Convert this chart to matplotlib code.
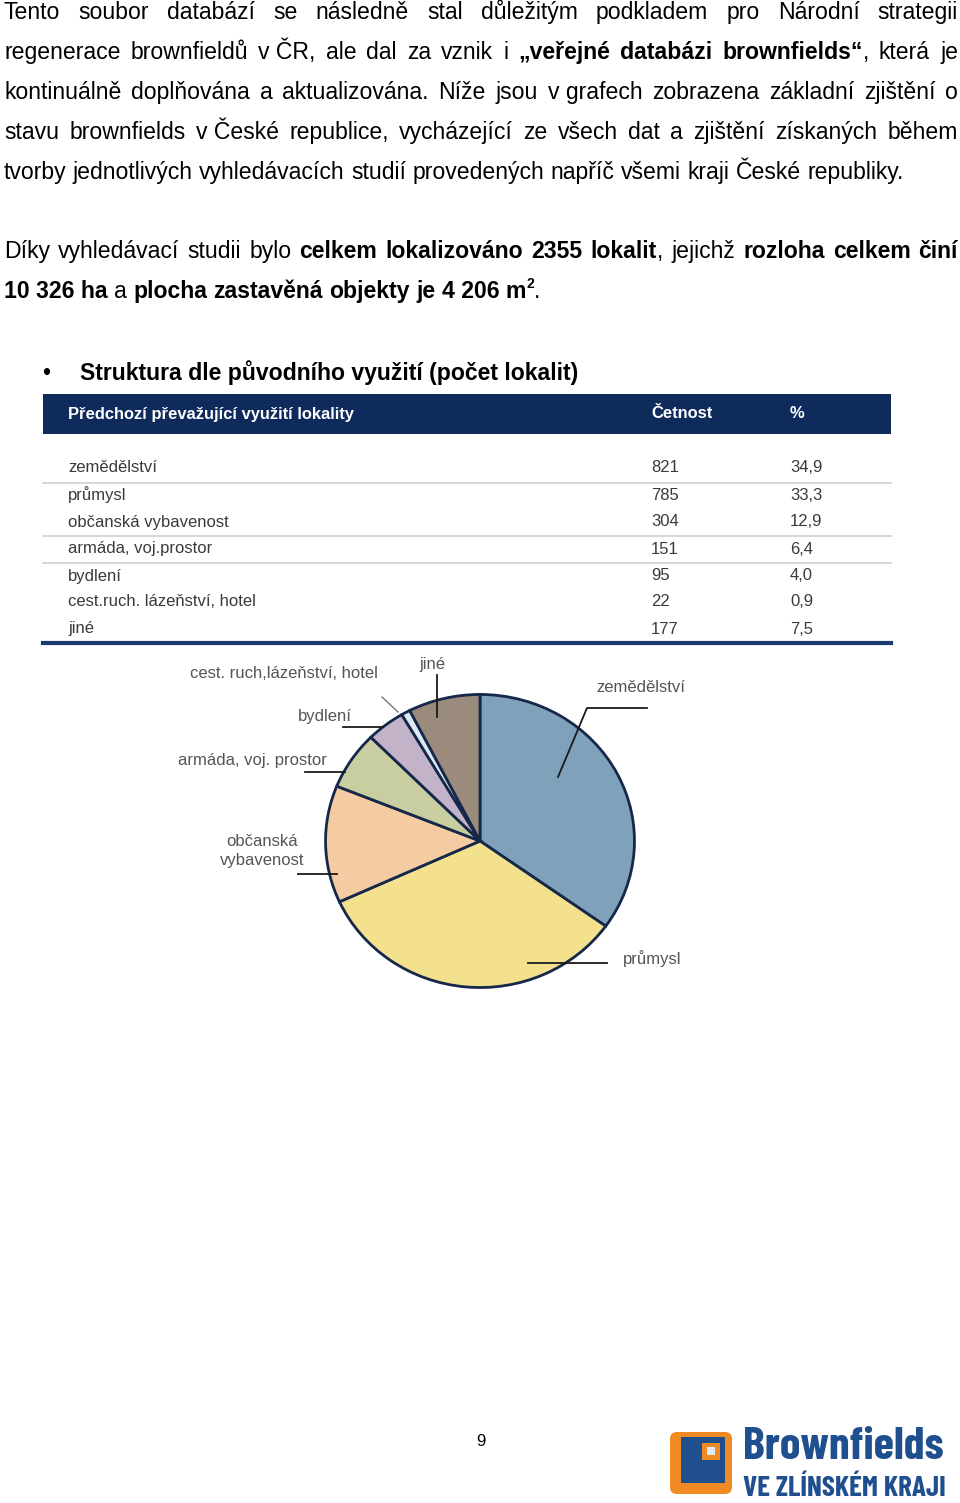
import numpy as np
import matplotlib
matplotlib.use("Agg")
import matplotlib.pyplot as plt
from matplotlib.patches import Rectangle, FancyBboxPatch

# ---- data ----
categories = ["zemědělství", "průmysl", "občanská vybavenost", "armáda, voj.prostor",
              "bydlení", "cest.ruch. lázeňství, hotel", "jiné"]
counts = [821, 785, 304, 151, 95, 22, 177]
percents = ["34,9", "33,3", "12,9", "6,4", "4,0", "0,9", "7,5"]
pie_labels = ["zemědělství", "průmysl", "občanská\nvybavenost", "armáda, voj. prostor",
              "bydlení", "cest. ruch,lázeňství, hotel", "jiné"]
pie_colors = ["#7fa1ba", "#f3e18e", "#f5cca2", "#c9cea0", "#c3b3c9", "#dde9f6", "#9b8b7d"]

W, H = 960, 1503
fig = plt.figure(figsize=(W / 100, H / 100), dpi=100)

# pie axes (page px)
cx, cy, rx, ry = 480, 841, 156, 148
pax = fig.add_axes([(cx - rx) / W, 1 - (cy + ry) / H, 2 * rx / W, 2 * ry / H])
pax.pie(counts, colors=pie_colors, startangle=90, counterclock=False,
        wedgeprops=dict(edgecolor="#16284a", linewidth=2.0))
pax.set_aspect("auto")
pax.set_xlim(-1.01, 1.01)
pax.set_ylim(-1.01, 1.01)
pax.axis("off")

# page overlay in pixel coordinates
ax = fig.add_axes([0, 0, 1, 1], facecolor="none")
ax.set_xlim(0, W)
ax.set_ylim(H, 0)
ax.axis("off")

SANS = "Liberation Sans"
LOGO = ["Barlow Condensed", "Liberation Sans"]

fig.canvas.draw()
rend = fig.canvas.get_renderer()


def width(s, size, weight, family):
    t = ax.text(0, 0, s, fontsize=size, fontweight=weight, family=family)
    w = t.get_window_extent(rend).width
    t.remove()
    return w


def line(words, y, x0, x1, size, family, justify=True):
    # words: list of lists of (text, weight) segments
    ws = [sum(width(s, size, wt, family) for s, wt in w) for w in words]
    if justify and len(words) > 1:
        gap = (x1 - x0 - sum(ws)) / (len(words) - 1)
    else:
        gap = width("a a", size, "normal", family) - width("aa", size, "normal", family)
    x = x0
    for w, wd in zip(words, ws):
        xx = x
        for s, wt in w:
            if s == "^2":
                ax.text(xx, y - 10, "2", fontsize=size * 0.6, fontweight=wt,
                        family=family, va="baseline")
                xx += width("2", size * 0.6, wt, family)
                continue
            ax.text(xx, y, s, fontsize=size, fontweight=wt, family=family, va="baseline")
            xx += width(s, size, wt, family)
        x += wd + gap


def plain(text):
    return [[(w, "normal")] for w in text.split(" ")]


def bold_words(text):
    return [[(w, "bold")] for w in text.split(" ")]


P1 = 16.6
y0 = 19
line(plain("Tento soubor databází se následně stal důležitým podkladem pro Národní strategii"),
     y0, 4, 958, P1, SANS)
line(plain("regenerace brownfieldů v\u00a0ČR, ale dal za vznik i")
     + [[("„veřejné", "bold")], [("databázi", "bold")], [("brownfields“", "bold"), (",", "normal")]]
     + plain("která je"), y0 + 40, 4, 958, P1, SANS)
line(plain("kontinuálně doplňována a aktualizována. Níže jsou v\u00a0grafech zobrazena základní zjištění o"),
     y0 + 80, 4, 958, P1, SANS)
line(plain("stavu brownfields v\u00a0České republice, vycházející ze všech dat a zjištění získaných během"),
     y0 + 120, 4, 958, P1, SANS)
line(plain("tvorby jednotlivých vyhledávacích studií provedených napříč všemi kraji České republiky."),
     y0 + 160, 4, 958, P1, SANS, justify=False)

P2 = 16.6
line(plain("Díky vyhledávací studii bylo") + bold_words("celkem lokalizováno 2355")
     + [[("lokalit", "bold"), (",", "normal")]] + plain("jejichž")
     + bold_words("rozloha celkem činí"), 258, 4, 958, P2, SANS)
line([[("10\u00a0326\u00a0ha", "bold")], [("a", "normal")]]
     + bold_words("plocha zastavěná objekty je 4\u00a0206")
     + [[("m", "bold"), ("^2", "bold"), (".", "normal")]], 298, 4, 958, P2, SANS, justify=False)

ax.text(46, 380, "•", fontsize=P2, family=SANS, va="baseline", ha="center")
ax.text(80, 380, "Struktura dle původního využití (počet lokalit)", fontsize=P2,
        fontweight="bold", family=SANS, va="baseline")

# ---- table ----
navy = "#0e2b5c"
ax.add_patch(Rectangle((43, 394), 848, 40, facecolor=navy, edgecolor="none"))
hdr = dict(color="white", fontsize=11.9, fontweight="bold", family=SANS, va="center")
ax.text(68, 414, "Předchozí převažující využití lokality", **hdr)
ax.text(651, 414, "Četnost", **hdr)
ax.text(790, 414, "%", **hdr)

row_y = [468, 495, 522, 549, 576, 602, 629]
cell = dict(color="#3a3a3a", fontsize=12, family=SANS, va="center")
for yy, c, n, p in zip(row_y, categories, counts, percents):
    ax.text(68, yy, c, **cell)
    ax.text(651, yy, str(n), **cell)
    ax.text(790, yy, p, **cell)
for yy in [483, 536, 563]:
    ax.plot([43, 891], [yy, yy], color="#d0d0d0", lw=1.2)
ax.plot([43, 891], [643, 643], color="#1d3a6e", lw=3)

# ---- pie labels & leaders ----
lab = dict(color="#555555", fontsize=12, family=SANS, va="center")
ax.text(641, 687, pie_labels[0], ha="center", **lab)
ax.text(652, 959, pie_labels[1], ha="center", **lab)
ax.text(262, 851, pie_labels[2], ha="center", linespacing=1.3, **lab)
ax.text(252, 760, pie_labels[3], ha="center", **lab)
ax.text(325, 716, pie_labels[4], ha="center", **lab)
ax.text(284, 673, pie_labels[5], ha="center", **lab)
ax.text(432, 665, pie_labels[6], ha="center", **lab)
ld = dict(color="#1a1a1a", lw=1.3)
ax.plot([558, 587, 647], [777, 708, 708], **ld)
ax.plot([528, 607], [963, 963], **ld)
ax.plot([298, 337], [874, 874], **ld)
ax.plot([305, 345], [772, 772], **ld)
ax.plot([343, 383], [727, 727], **ld)
ax.plot([382, 398], [697, 712], color="#777777", lw=1.0)
ax.plot([437, 437], [675, 717], **ld)

# ---- footer ----
ax.text(481, 1442, "9", fontsize=12, family=SANS, ha="center", va="center")
orange, blue = "#f08a24", "#1f4f8f"
ax.add_patch(FancyBboxPatch((670, 1432), 62, 62, boxstyle="round,pad=0,rounding_size=7",
                            facecolor=orange, edgecolor="none"))
ax.add_patch(Rectangle((681, 1437), 44, 46, facecolor=blue, edgecolor="none"))
ax.add_patch(Rectangle((702, 1443), 18, 17, facecolor=orange, edgecolor="none"))
ax.add_patch(Rectangle((707, 1447), 8, 8, facecolor="#dfeaf6", edgecolor="none"))
s1 = 20 * 201 / width("Brownfields", 20, "bold", LOGO)
s2 = 20 * 203 / width("VE ZLÍNSKÉM KRAJI", 20, "bold", LOGO)
ax.text(743, 1459, "Brownfields", color=blue, fontsize=s1, fontweight="bold",
        family=LOGO, va="baseline")
ax.text(743, 1496, "VE ZLÍNSKÉM KRAJI", color=blue, fontsize=s2, fontweight="bold",
        family=LOGO, va="baseline")

fig.savefig("out.png", dpi=100)
